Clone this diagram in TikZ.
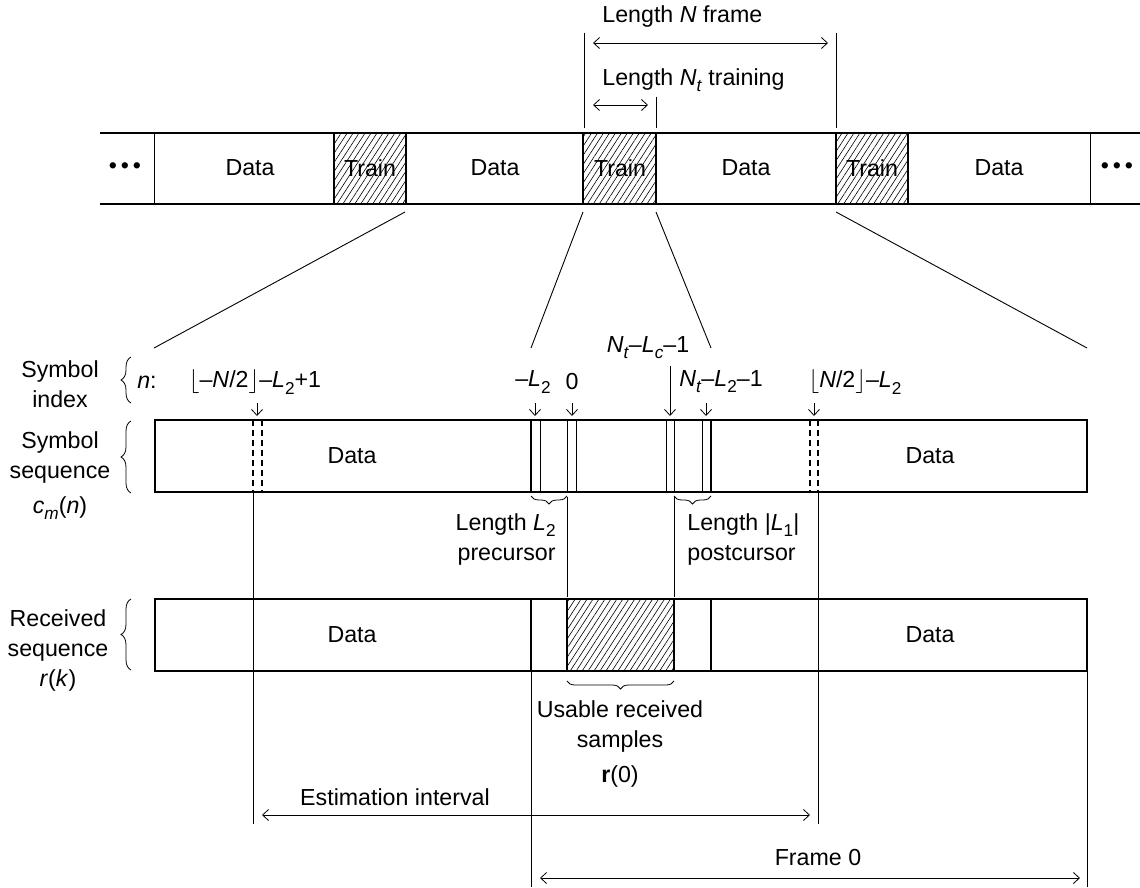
\documentclass[tikz,border=0pt]{standalone}
\usepackage{fontspec}
\setmainfont{Liberation Sans}
\usetikzlibrary{patterns.meta,decorations.pathreplacing,arrows.meta}
\newcommand\vi[1]{\textit{#1}}
\newcommand\subsc[1]{\raisebox{-0.5ex}{\fontsize{8.6}{9}\selectfont #1}}
\newcommand\vs[2]{\textit{#1}\subsc{\textit{#2}}}
\newcommand\vd[2]{\textit{#1}\subsc{#2}}
\newcommand\lfl{$\bigl\lfloor$}
\newcommand\rfl{$\bigr\rfloor$}
\begin{document}
\begin{tikzpicture}[x=0.5pt,y=-0.5pt,
  lbl/.style={inner sep=0pt, font=\fontsize{11.6}{14}\selectfont},
  thinl/.style={line width=0.45pt},
  barl/.style={line width=0.9pt},
  thickl/.style={line width=1.1pt},
  dashl/.style={line width=0.6pt, dash pattern=on 3pt off 2pt},
  hatch/.style={pattern={Lines[angle=57,distance=2.5pt,line width=0.3pt]}},
  dim/.style={line width=0.4pt, {Straight Barb[length=3pt,width=5.5pt]}-{Straight Barb[length=3pt,width=5.5pt]}},
  ptr/.style={line width=0.4pt, -{Straight Barb[length=3pt,width=5.5pt]}},
  bracel/.style={decorate, decoration={brace, amplitude=5pt}, line width=0.4pt},
  braceu/.style={decorate, decoration={brace, amplitude=4pt}, line width=0.4pt},
]
\useasboundingbox (0,0) rectangle (1140,888);

% ---------------- top frame bar ----------------
\fill[hatch] (334,133) rectangle (406,204);
\fill[hatch] (583,133) rectangle (656,204);
\fill[hatch] (836,133) rectangle (908,204);
\draw[barl] (100,133) -- (1140,133);
\draw[barl] (100,204) -- (1140,204);
\draw[thinl] (154,133) -- (154,204);
\draw[thinl] (1090,133) -- (1090,204);
\draw[barl] (334,133) rectangle (406,204);
\draw[barl] (583,133) rectangle (656,204);
\draw[barl] (836,133) rectangle (908,204);
\node[lbl] (dl) at (125,168) {\textbullet\,\textbullet\,\textbullet};
\node[lbl] (dr) at (1117,168) {\textbullet\,\textbullet\,\textbullet};
\node[lbl] (d1) at (250,168) {Data};
\node[lbl] (t1) at (370,168) {Train};
\node[lbl] (d2) at (495,168) {Data};
\node[lbl] (t2) at (620,168) {Train};
\node[lbl] (d3) at (746,168) {Data};
\node[lbl] (t3) at (872,168) {Train};
\node[lbl] (d4) at (999,168) {Data};

% dimension lines at top
\coordinate (fA) at (584,33); \coordinate (fB) at (836,33); \coordinate (tB) at (656,97);
\draw[thinl] (fA) -- (584,128);
\draw[thinl] (fB) -- (836,128);
\draw[thinl] (tB) -- (656,128);
\coordinate (a1) at (593,43); \coordinate (a2) at (828,43);
\coordinate (b1) at (593,105); \coordinate (b2) at (648,105);
\draw[dim] (a1) -- (a2);
\draw[dim] (b1) -- (b2);
\node[lbl, anchor=west] (lenN) at (602,17) {Length \vi{N} frame};
\node[lbl, anchor=west] (lenNt) at (602,80) {Length \vs{N}{t} training};

% fan lines
\coordinate (f1a) at (405,212); \coordinate (f1b) at (154,348);
\coordinate (f2a) at (583,212); \coordinate (f2b) at (531,348);
\coordinate (f3a) at (656,212); \coordinate (f3b) at (711,348);
\coordinate (f4a) at (836,212); \coordinate (f4b) at (1087,348);
\draw[thinl] (f1a) -- (f1b);
\draw[thinl] (f2a) -- (f2b);
\draw[thinl] (f3a) -- (f3b);
\draw[thinl] (f4a) -- (f4b);

% ---------------- symbol sequence bar ----------------
\draw[barl] (155,420) rectangle (1087,492);
\draw[thickl] (155,420) -- (155,492);
\draw[thickl] (531,420) -- (531,492);
\draw[thinl] (540,420) -- (540,492);
\draw[thinl] (567,420) -- (567,492);
\draw[thinl] (576,420) -- (576,492);
\draw[thinl] (666,420) -- (666,492);
\draw[thinl] (674,420) -- (674,492);
\draw[thinl] (702,420) -- (702,492);
\draw[thickl] (711,420) -- (711,492);
\draw[dashl] (253,420) -- (253,492);
\draw[dashl] (262,420) -- (262,492);
\draw[dashl] (810,420) -- (810,492);
\draw[dashl] (818,420) -- (818,492);
\node[lbl] (sd1) at (352,456) {Data};
\node[lbl] (sd2) at (930,456) {Data};

% index labels and pointers
\node[lbl] (nlab) at (147,382) {\vi{n}:};
\node[lbl] (i1) at (255,382) {\lfl–\vi{N}/2\rfl–\vd{L}{2}+1};
\node[lbl] (i2) at (533,382) {–\vd{L}{2}};
\node[lbl] (i3) at (572,382) {0};
\node[lbl] (i4) at (648,348) {\vs{N}{t}–\vs{L}{c}–1};
\node[lbl] (i5) at (721,382) {\vs{N}{t}–\vd{L}{2}–1};
\node[lbl] (i6) at (855,382) {\lfl\vi{N}/2\rfl–\vd{L}{2}};
\coordinate (p1) at (257,403); \coordinate (q1) at (257,416);
\coordinate (p2) at (535,403); \coordinate (q2) at (535,416);
\coordinate (p3) at (572,403); \coordinate (q3) at (572,416);
\coordinate (p4) at (670,366); \coordinate (q4) at (670,416);
\coordinate (p5) at (706,403); \coordinate (q5) at (706,416);
\coordinate (p6) at (814,403); \coordinate (q6) at (814,416);
\draw[ptr] (p1) -- (q1);
\draw[ptr] (p2) -- (q2);
\draw[ptr] (p3) -- (q3);
\draw[ptr] (p4) -- (q4);
\draw[ptr] (p5) -- (q5);
\draw[ptr] (p6) -- (q6);

% braces under symbol bar
\draw[braceu] (567,496) -- (531,496);
\draw[braceu] (711,496) -- (674,496);
\draw[thinl] (567,497) -- (567,597);
\draw[thinl] (674,497) -- (674,597);
\node[lbl, align=right, anchor=east] (pre) at (556,539) {Length \vd{L}{2}\\[1pt]precursor};
\node[lbl, align=left, anchor=west] (post) at (687,539) {Length |\vd{L}{1}|\\[1pt]postcursor};

% ---------------- received sequence bar ----------------
\fill[hatch] (567,599) rectangle (674,671);
\draw[barl] (155,599) rectangle (1087,671);
\draw[thickl] (155,599) -- (155,671);
\draw[thickl] (531,599) -- (531,671);
\draw[barl] (567,599) rectangle (674,671);
\draw[thickl] (711,599) -- (711,671);
\node[lbl] (rd1) at (352,635) {Data};
\node[lbl] (rd2) at (930,635) {Data};
\draw[braceu] (674,681) -- (567,681);
\node[lbl, align=center] (usable) at (620,726) {Usable received\\[1pt]samples};
\node[lbl] (r0) at (620,776) {\textbf{r}(0)};

% long verticals
\draw[thinl] (253,492) -- (253,824);
\draw[thinl] (818,492) -- (818,824);
\draw[thinl] (531,671) -- (531,887);
\draw[thinl] (1087,671) -- (1087,887);
\coordinate (e1) at (262,815); \coordinate (e2) at (810,815);
\coordinate (g1) at (540,878); \coordinate (g2) at (1080,878);
\draw[dim] (e1) -- (e2);
\draw[dim] (g1) -- (g2);
\node[lbl] (est) at (395,797) {Estimation interval};
\node[lbl] (fr0) at (818,858) {Frame 0};

% ---------------- left labels and braces ----------------
\draw[bracel] (131,403) -- (131,357);
\draw[bracel] (131,493) -- (131,421);
\draw[bracel] (131,670) -- (131,599);
\node[lbl, align=center] (symidx) at (60,384) {Symbol\\[1pt]index};
\node[lbl, align=center] (symseq) at (60,457) {Symbol\\[1pt]sequence};
\node[lbl] (cmn) at (60,508) {\vs{c}{m}(\vi{n})};
\node[lbl, align=center] (recseq) at (58,635) {Received\\[1pt]sequence};
\node[lbl] (rk) at (58,680) {\vi{r}(\vi{k})};
\end{tikzpicture}
\end{document}
